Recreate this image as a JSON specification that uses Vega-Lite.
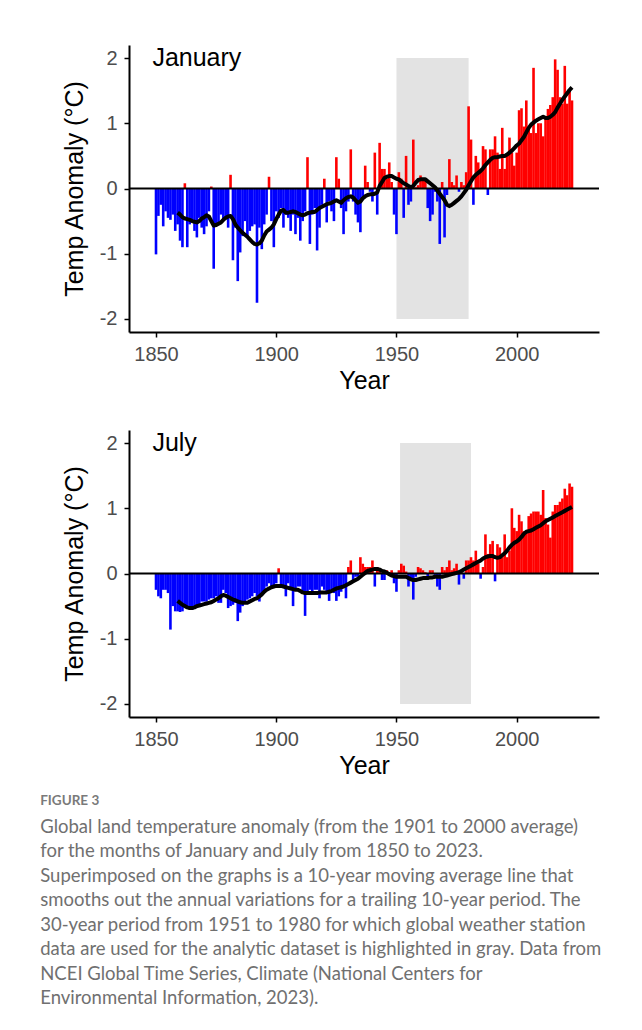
{
"$schema": "https://vega.github.io/schema/vega-lite/v6.json",
"background": "white",
"padding": {"left": 40, "top": 45, "right": 10, "bottom": 10},
"spacing": 37,
"datasets": {"d": [
{"year":1850,"jan":-1.01,"jul":-0.25},{"year":1851,"jan":-0.42,"jul":-0.35},{"year":1852,"jan":-0.25,"jul":-0.38},{"year":1853,"jan":-0.58,"jul":-0.25},{"year":1854,"jan":-0.35,"jul":-0.25},{"year":1855,"jan":-0.45,"jul":-0.30},{"year":1856,"jan":-0.48,"jul":-0.86},{"year":1857,"jan":-0.40,"jul":-0.50},{"year":1858,"jan":-0.65,"jul":-0.58},
{"year":1859,"jan":-0.55,"jul":-0.58,"jan_ma":-0.37,"jul_ma":-0.42},{"year":1860,"jan":-0.80,"jul":-0.59,"jan_ma":-0.40,"jul_ma":-0.45},{"year":1861,"jan":-0.90,"jul":-0.58,"jan_ma":-0.44,"jul_ma":-0.48},{"year":1862,"jan":0.08,"jul":-0.53,"jan_ma":-0.46,"jul_ma":-0.50},{"year":1863,"jan":-0.90,"jul":-0.53,"jan_ma":-0.47,"jul_ma":-0.52},{"year":1864,"jan":-0.55,"jul":-0.55,"jan_ma":-0.48,"jul_ma":-0.53},{"year":1865,"jan":-0.48,"jul":-0.56,"jan_ma":-0.50,"jul_ma":-0.53},{"year":1866,"jan":-0.65,"jul":-0.50,"jan_ma":-0.51,"jul_ma":-0.52},{"year":1867,"jan":-0.75,"jul":-0.53,"jan_ma":-0.52,"jul_ma":-0.50},{"year":1868,"jan":-0.45,"jul":-0.48,"jan_ma":-0.50,"jul_ma":-0.49},{"year":1869,"jan":-0.60,"jul":-0.43,"jan_ma":-0.46,"jul_ma":-0.48},
{"year":1870,"jan":-0.70,"jul":-0.43,"jan_ma":-0.44,"jul_ma":-0.47},{"year":1871,"jan":-0.58,"jul":-0.43,"jan_ma":-0.41,"jul_ma":-0.46},{"year":1872,"jan":-0.35,"jul":-0.40,"jan_ma":-0.43,"jul_ma":-0.45},{"year":1873,"jan":0.03,"jul":-0.38,"jan_ma":-0.50,"jul_ma":-0.44},{"year":1874,"jan":-1.23,"jul":-0.38,"jan_ma":-0.57,"jul_ma":-0.42},{"year":1875,"jan":-0.58,"jul":-0.35,"jan_ma":-0.56,"jul_ma":-0.40},{"year":1876,"jan":-0.55,"jul":-0.45,"jan_ma":-0.54,"jul_ma":-0.38},{"year":1877,"jan":-0.40,"jul":-0.45,"jan_ma":-0.52,"jul_ma":-0.35},{"year":1878,"jan":-0.50,"jul":-0.25,"jan_ma":-0.48,"jul_ma":-0.33},{"year":1879,"jan":-0.45,"jul":-0.30,"jan_ma":-0.45,"jul_ma":-0.34},
{"year":1880,"jan":-0.60,"jul":-0.53,"jan_ma":-0.43,"jul_ma":-0.36},{"year":1881,"jan":0.21,"jul":-0.50,"jan_ma":-0.42,"jul_ma":-0.38},{"year":1882,"jan":-1.10,"jul":-0.48,"jan_ma":-0.47,"jul_ma":-0.40},{"year":1883,"jan":-0.60,"jul":-0.45,"jan_ma":-0.55,"jul_ma":-0.41},{"year":1884,"jan":-1.42,"jul":-0.73,"jan_ma":-0.60,"jul_ma":-0.43},{"year":1885,"jan":-0.98,"jul":-0.60,"jan_ma":-0.64,"jul_ma":-0.44},{"year":1886,"jan":-0.73,"jul":-0.50,"jan_ma":-0.68,"jul_ma":-0.45},{"year":1887,"jan":-0.50,"jul":-0.45,"jan_ma":-0.71,"jul_ma":-0.45},{"year":1888,"jan":-0.73,"jul":-0.40,"jan_ma":-0.74,"jul_ma":-0.45},{"year":1889,"jan":-0.65,"jul":-0.38,"jan_ma":-0.78,"jul_ma":-0.43},
{"year":1890,"jan":-0.58,"jul":-0.35,"jan_ma":-0.82,"jul_ma":-0.41},{"year":1891,"jan":-0.55,"jul":-0.30,"jan_ma":-0.85,"jul_ma":-0.39},{"year":1892,"jan":-1.75,"jul":-0.35,"jan_ma":-0.86,"jul_ma":-0.38},{"year":1893,"jan":-0.60,"jul":-0.43,"jan_ma":-0.84,"jul_ma":-0.35},{"year":1894,"jan":-0.93,"jul":-0.33,"jan_ma":-0.80,"jul_ma":-0.32},{"year":1895,"jan":-0.55,"jul":-0.30,"jan_ma":-0.72,"jul_ma":-0.28},{"year":1896,"jan":-0.40,"jul":-0.20,"jan_ma":-0.66,"jul_ma":-0.25},{"year":1897,"jan":0.18,"jul":-0.15,"jan_ma":-0.63,"jul_ma":-0.23},{"year":1898,"jan":-0.50,"jul":-0.20,"jan_ma":-0.60,"jul_ma":-0.21},{"year":1899,"jan":-0.90,"jul":-0.18,"jan_ma":-0.55,"jul_ma":-0.20},
{"year":1900,"jan":-0.35,"jul":-0.15,"jan_ma":-0.47,"jul_ma":-0.19},{"year":1901,"jan":-0.45,"jul":0.08,"jan_ma":-0.40,"jul_ma":-0.19},{"year":1902,"jan":-0.30,"jul":-0.20,"jan_ma":-0.34,"jul_ma":-0.19},{"year":1903,"jan":-0.60,"jul":-0.20,"jan_ma":-0.33,"jul_ma":-0.20},{"year":1904,"jan":-0.40,"jul":-0.35,"jan_ma":-0.37,"jul_ma":-0.21},{"year":1905,"jan":-0.45,"jul":-0.15,"jan_ma":-0.37,"jul_ma":-0.22},{"year":1906,"jan":-0.65,"jul":-0.22,"jan_ma":-0.36,"jul_ma":-0.23},{"year":1907,"jan":-0.40,"jul":-0.50,"jan_ma":-0.35,"jul_ma":-0.24},{"year":1908,"jan":-0.70,"jul":-0.25,"jan_ma":-0.36,"jul_ma":-0.25},{"year":1909,"jan":-0.45,"jul":-0.20,"jan_ma":-0.38,"jul_ma":-0.25},
{"year":1910,"jan":-0.80,"jul":-0.20,"jan_ma":-0.40,"jul_ma":-0.27},{"year":1911,"jan":-0.50,"jul":-0.30,"jan_ma":-0.41,"jul_ma":-0.29},{"year":1912,"jan":-0.35,"jul":-0.65,"jan_ma":-0.40,"jul_ma":-0.30},{"year":1913,"jan":0.48,"jul":-0.30,"jan_ma":-0.38,"jul_ma":-0.30},{"year":1914,"jan":-0.85,"jul":-0.25,"jan_ma":-0.37,"jul_ma":-0.30},{"year":1915,"jan":-0.40,"jul":-0.30,"jan_ma":-0.36,"jul_ma":-0.30},{"year":1916,"jan":-0.30,"jul":-0.25,"jan_ma":-0.36,"jul_ma":-0.30},{"year":1917,"jan":-0.95,"jul":-0.25,"jan_ma":-0.33,"jul_ma":-0.30},{"year":1918,"jan":-0.60,"jul":-0.38,"jan_ma":-0.30,"jul_ma":-0.29},{"year":1919,"jan":-0.25,"jul":-0.20,"jan_ma":-0.28,"jul_ma":-0.29},
{"year":1920,"jan":0.15,"jul":-0.25,"jan_ma":-0.26,"jul_ma":-0.29},{"year":1921,"jan":-0.52,"jul":-0.30,"jan_ma":-0.24,"jul_ma":-0.29},{"year":1922,"jan":-0.20,"jul":-0.42,"jan_ma":-0.23,"jul_ma":-0.28},{"year":1923,"jan":-0.35,"jul":-0.25,"jan_ma":-0.22,"jul_ma":-0.27},{"year":1924,"jan":-0.50,"jul":-0.30,"jan_ma":-0.20,"jul_ma":-0.25},{"year":1925,"jan":0.48,"jul":-0.42,"jan_ma":-0.18,"jul_ma":-0.23},{"year":1926,"jan":0.15,"jul":-0.35,"jan_ma":-0.20,"jul_ma":-0.22},{"year":1927,"jan":-0.30,"jul":-0.28,"jan_ma":-0.22,"jul_ma":-0.21},{"year":1928,"jan":-0.70,"jul":-0.20,"jan_ma":-0.18,"jul_ma":-0.20},{"year":1929,"jan":-0.35,"jul":-0.38,"jan_ma":-0.15,"jul_ma":-0.18},
{"year":1930,"jan":-0.20,"jul":0.10,"jan_ma":-0.13,"jul_ma":-0.16},{"year":1931,"jan":0.60,"jul":0.20,"jan_ma":-0.12,"jul_ma":-0.14},{"year":1932,"jan":-0.20,"jul":-0.10,"jan_ma":-0.14,"jul_ma":-0.12},{"year":1933,"jan":-0.40,"jul":-0.05,"jan_ma":-0.18,"jul_ma":-0.10},{"year":1934,"jan":-0.52,"jul":-0.05,"jan_ma":-0.22,"jul_ma":-0.08},{"year":1935,"jan":-0.67,"jul":0.25,"jan_ma":-0.20,"jul_ma":-0.05},{"year":1936,"jan":-0.15,"jul":0.15,"jan_ma":-0.15,"jul_ma":-0.02},{"year":1937,"jan":0.35,"jul":0.10,"jan_ma":-0.12,"jul_ma":0.01},{"year":1938,"jan":0.10,"jul":0.10,"jan_ma":-0.10,"jul_ma":0.04},{"year":1939,"jan":-0.05,"jul":0.10,"jan_ma":-0.09,"jul_ma":0.05},
{"year":1940,"jan":-0.20,"jul":0.20,"jan_ma":-0.09,"jul_ma":0.06},{"year":1941,"jan":0.55,"jul":-0.20,"jan_ma":-0.08,"jul_ma":0.07},{"year":1942,"jan":-0.40,"jul":0.10,"jan_ma":-0.06,"jul_ma":0.07},{"year":1943,"jan":0.70,"jul":0.05,"jan_ma":0.04,"jul_ma":0.06},{"year":1944,"jan":0.30,"jul":-0.10,"jan_ma":0.10,"jul_ma":0.04},{"year":1945,"jan":0.30,"jul":-0.10,"jan_ma":0.16,"jul_ma":0.03},{"year":1946,"jan":0.15,"jul":0.05,"jan_ma":0.18,"jul_ma":0.01},{"year":1947,"jan":0.40,"jul":0.02,"jan_ma":0.19,"jul_ma":-0.01},{"year":1948,"jan":0.10,"jul":0.05,"jan_ma":0.19,"jul_ma":-0.03},{"year":1949,"jan":-0.40,"jul":-0.15,"jan_ma":0.17,"jul_ma":-0.04},
{"year":1950,"jan":-0.70,"jul":-0.28,"jan_ma":0.15,"jul_ma":-0.05},{"year":1951,"jan":0.25,"jul":0.05,"jan_ma":0.14,"jul_ma":-0.05},{"year":1952,"jan":0.15,"jul":0.15,"jan_ma":0.11,"jul_ma":-0.05},{"year":1953,"jan":-0.45,"jul":0.12,"jan_ma":0.08,"jul_ma":-0.05},{"year":1954,"jan":0.50,"jul":0.03,"jan_ma":0.06,"jul_ma":-0.05},{"year":1955,"jan":-0.25,"jul":-0.20,"jan_ma":0.04,"jul_ma":-0.07},{"year":1956,"jan":-0.20,"jul":-0.10,"jan_ma":0.02,"jul_ma":-0.09},{"year":1957,"jan":0.75,"jul":-0.40,"jan_ma":0.04,"jul_ma":-0.10},{"year":1958,"jan":0.02,"jul":-0.05,"jan_ma":0.09,"jul_ma":-0.10},{"year":1959,"jan":0.05,"jul":0.10,"jan_ma":0.13,"jul_ma":-0.09},
{"year":1960,"jan":0.20,"jul":0.08,"jan_ma":0.14,"jul_ma":-0.08},{"year":1961,"jan":0.15,"jul":0.05,"jan_ma":0.14,"jul_ma":-0.07},{"year":1962,"jan":0.15,"jul":0.02,"jan_ma":0.14,"jul_ma":-0.07},{"year":1963,"jan":-0.30,"jul":-0.05,"jan_ma":0.11,"jul_ma":-0.07},{"year":1964,"jan":-0.50,"jul":0.05,"jan_ma":0.08,"jul_ma":-0.06},{"year":1965,"jan":-0.40,"jul":0.05,"jan_ma":0.05,"jul_ma":-0.06},{"year":1966,"jan":-0.05,"jul":-0.02,"jan_ma":0.02,"jul_ma":-0.05},{"year":1967,"jan":-0.20,"jul":-0.20,"jan_ma":-0.03,"jul_ma":-0.05},{"year":1968,"jan":-0.85,"jul":-0.25,"jan_ma":-0.08,"jul_ma":-0.05},{"year":1969,"jan":0.10,"jul":0.10,"jan_ma":-0.13,"jul_ma":-0.05},
{"year":1970,"jan":-0.75,"jul":0.05,"jan_ma":-0.18,"jul_ma":-0.04},{"year":1971,"jan":-0.10,"jul":0.10,"jan_ma":-0.25,"jul_ma":-0.03},{"year":1972,"jan":0.45,"jul":0.20,"jan_ma":-0.27,"jul_ma":-0.02},{"year":1973,"jan":0.10,"jul":0.05,"jan_ma":-0.25,"jul_ma":-0.01},{"year":1974,"jan":0.05,"jul":0.08,"jan_ma":-0.22,"jul_ma":0.00},{"year":1975,"jan":0.20,"jul":0.15,"jan_ma":-0.19,"jul_ma":0.01},{"year":1976,"jan":-0.05,"jul":-0.17,"jan_ma":-0.16,"jul_ma":0.02},{"year":1977,"jan":0.10,"jul":0.05,"jan_ma":-0.12,"jul_ma":0.04},{"year":1978,"jan":0.05,"jul":-0.08,"jan_ma":-0.07,"jul_ma":0.06},{"year":1979,"jan":0.25,"jul":0.20,"jan_ma":-0.02,"jul_ma":0.08},
{"year":1980,"jan":1.26,"jul":0.20,"jan_ma":0.05,"jul_ma":0.10},{"year":1981,"jan":0.75,"jul":0.25,"jan_ma":0.11,"jul_ma":0.12},{"year":1982,"jan":-0.25,"jul":0.20,"jan_ma":0.17,"jul_ma":0.14},{"year":1983,"jan":0.50,"jul":0.35,"jan_ma":0.21,"jul_ma":0.16},{"year":1984,"jan":0.40,"jul":0.15,"jan_ma":0.24,"jul_ma":0.18},{"year":1985,"jan":0.30,"jul":-0.08,"jan_ma":0.27,"jul_ma":0.20},{"year":1986,"jan":0.65,"jul":0.10,"jan_ma":0.31,"jul_ma":0.23},{"year":1987,"jan":0.60,"jul":0.60,"jan_ma":0.36,"jul_ma":0.25},{"year":1988,"jan":-0.10,"jul":0.30,"jan_ma":0.40,"jul_ma":0.26},{"year":1989,"jan":0.60,"jul":0.45,"jan_ma":0.44,"jul_ma":0.27},
{"year":1990,"jan":0.60,"jul":0.50,"jan_ma":0.47,"jul_ma":0.27},{"year":1991,"jan":0.80,"jul":-0.12,"jan_ma":0.48,"jul_ma":0.25},{"year":1992,"jan":0.55,"jul":0.45,"jan_ma":0.48,"jul_ma":0.24},{"year":1993,"jan":0.30,"jul":0.40,"jan_ma":0.49,"jul_ma":0.25},{"year":1994,"jan":0.93,"jul":0.25,"jan_ma":0.50,"jul_ma":0.28},{"year":1995,"jan":0.30,"jul":0.60,"jan_ma":0.50,"jul_ma":0.31},{"year":1996,"jan":0.50,"jul":0.25,"jan_ma":0.52,"jul_ma":0.35},{"year":1997,"jan":0.78,"jul":0.35,"jan_ma":0.55,"jul_ma":0.40},{"year":1998,"jan":0.55,"jul":1.00,"jan_ma":0.58,"jul_ma":0.44},{"year":1999,"jan":0.35,"jul":0.70,"jan_ma":0.62,"jul_ma":0.47},
{"year":2000,"jan":0.55,"jul":0.65,"jan_ma":0.66,"jul_ma":0.49},{"year":2001,"jan":1.20,"jul":0.90,"jan_ma":0.69,"jul_ma":0.52},{"year":2002,"jan":1.23,"jul":0.80,"jan_ma":0.74,"jul_ma":0.56},{"year":2003,"jan":0.95,"jul":0.65,"jan_ma":0.79,"jul_ma":0.61},{"year":2004,"jan":1.35,"jul":0.65,"jan_ma":0.86,"jul_ma":0.64},{"year":2005,"jan":0.90,"jul":0.88,"jan_ma":0.93,"jul_ma":0.65},{"year":2006,"jan":0.85,"jul":0.92,"jan_ma":0.98,"jul_ma":0.66},{"year":2007,"jan":1.85,"jul":0.95,"jan_ma":1.01,"jul_ma":0.68},{"year":2008,"jan":0.85,"jul":0.95,"jan_ma":1.04,"jul_ma":0.70},{"year":2009,"jan":1.00,"jul":0.95,"jan_ma":1.06,"jul_ma":0.72},
{"year":2010,"jan":1.00,"jul":0.90,"jan_ma":1.08,"jul_ma":0.74},{"year":2011,"jan":0.80,"jul":1.28,"jan_ma":1.10,"jul_ma":0.77},{"year":2012,"jan":1.10,"jul":0.85,"jan_ma":1.08,"jul_ma":0.80},{"year":2013,"jan":1.22,"jul":0.75,"jan_ma":1.08,"jul_ma":0.82},{"year":2014,"jan":1.28,"jul":0.55,"jan_ma":1.10,"jul_ma":0.84},{"year":2015,"jan":1.40,"jul":0.95,"jan_ma":1.13,"jul_ma":0.86},{"year":2016,"jan":1.98,"jul":1.05,"jan_ma":1.17,"jul_ma":0.88},{"year":2017,"jan":1.82,"jul":1.05,"jan_ma":1.24,"jul_ma":0.90},{"year":2018,"jan":1.40,"jul":1.10,"jan_ma":1.30,"jul_ma":0.92},{"year":2019,"jan":1.30,"jul":1.15,"jan_ma":1.36,"jul_ma":0.94},
{"year":2020,"jan":1.88,"jul":1.30,"jan_ma":1.41,"jul_ma":0.96},{"year":2021,"jan":1.30,"jul":1.20,"jan_ma":1.46,"jul_ma":0.98},{"year":2022,"jan":1.50,"jul":1.38,"jan_ma":1.51,"jul_ma":1.00},{"year":2023,"jan":1.35,"jul":1.33,"jan_ma":1.55,"jul_ma":1.02}
]},
"title": {
  "text": "FIGURE 3",
  "subtitle": [
    "Global land temperature anomaly (from the 1901 to 2000 average)",
    "for the months of January and July from 1850 to 2023.",
    "Superimposed on the graphs is a 10-year moving average line that",
    "smooths out the annual variations for a trailing 10-year period. The",
    "30-year period from 1951 to 1980 for which global weather station",
    "data are used for the analytic dataset is highlighted in gray. Data from",
    "NCEI Global Time Series, Climate (National Centers for",
    "Environmental Information, 2023)."
  ],
  "orient": "bottom", "anchor": "start", "frame": "bounds",
  "offset": 16, "dx": -22,
  "font": "Lato", "fontSize": 13.5, "fontWeight": "bold", "color": "#7a7a7a",
  "subtitleFont": "Lato", "subtitleFontSize": 18.5, "subtitleColor": "#707070",
  "subtitleLineHeight": 24.5, "subtitlePadding": 10
},
"config": {
  "view": {"stroke": null},
  "axis": {
    "grid": false, "domainColor": "black", "domainWidth": 2,
    "tickColor": "black", "tickWidth": 1.5, "tickSize": 5,
    "labelColor": "#4d4d4d", "labelFontSize": 20, "labelFont": "Liberation Sans", "labelPadding": 7,
    "titleFont": "Liberation Sans", "titleFontSize": 25, "titleFontWeight": "normal", "titleColor": "black"
  },
  "axisX": {"titlePadding": 4},
  "axisY": {"titlePadding": 12}
},
"vconcat": [
{
  "width": 470, "height": 287,
  "layer": [
    {"data": {"values": [{}]}, "mark": {"type": "rect", "color": "#e3e3e3"},
     "encoding": {
       "x": {"datum": 1950, "type": "quantitative", "title": "Year", "scale": {"domain": [1840.85, 2032.15], "nice": false, "zero": false}, "axis": {"values": [1850, 1900, 1950, 2000], "labelExpr": "datum.value + ''"}},
       "x2": {"datum": 1980},
       "y": {"datum": -2, "type": "quantitative", "title": "Temp Anomaly (°C)", "scale": {"domain": [-2.2, 2.2], "nice": false}, "axis": {"values": [-2, -1, 0, 1, 2], "labelExpr": "datum.value + ''"}},
       "y2": {"datum": 2}}},
    {"data": {"name": "d"}, "mark": {"type": "bar", "width": 2.6},
     "encoding": {
       "x": {"field": "year", "type": "quantitative", "title": "Year"},
       "y": {"field": "jan", "type": "quantitative", "title": "Temp Anomaly (°C)"},
       "color": {"condition": {"test": "datum.jan >= 0", "value": "#ff0000"}, "value": "#0000ff"}}},
    {"data": {"values": [{}]}, "mark": {"type": "rule", "color": "black", "strokeWidth": 2},
     "encoding": {"y": {"datum": 0, "type": "quantitative", "title": "Temp Anomaly (°C)"}}},
    {"data": {"name": "d"}, "mark": {"type": "line", "color": "black", "strokeWidth": 4, "strokeJoin": "round"},
     "encoding": {
       "x": {"field": "year", "type": "quantitative", "title": "Year"},
       "y": {"field": "jan_ma", "type": "quantitative", "title": "Temp Anomaly (°C)"}}},
    {"data": {"values": [{}]}, "mark": {"type": "text", "text": "January", "align": "left", "baseline": "middle", "fontSize": 25, "font": "Liberation Sans", "color": "black"},
     "encoding": {"x": {"datum": 1848.5, "type": "quantitative", "title": "Year"}, "y": {"datum": 2, "type": "quantitative", "title": "Temp Anomaly (°C)"}}}
  ]
},
{
  "width": 470, "height": 287,
  "layer": [
    {"data": {"values": [{}]}, "mark": {"type": "rect", "color": "#e3e3e3"},
     "encoding": {
       "x": {"datum": 1951.5, "type": "quantitative", "title": "Year", "scale": {"domain": [1840.85, 2032.15], "nice": false, "zero": false}, "axis": {"values": [1850, 1900, 1950, 2000], "labelExpr": "datum.value + ''"}},
       "x2": {"datum": 1981},
       "y": {"datum": -2, "type": "quantitative", "title": "Temp Anomaly (°C)", "scale": {"domain": [-2.2, 2.2], "nice": false}, "axis": {"values": [-2, -1, 0, 1, 2], "labelExpr": "datum.value + ''"}},
       "y2": {"datum": 2}}},
    {"data": {"name": "d"}, "mark": {"type": "bar", "width": 2.6},
     "encoding": {
       "x": {"field": "year", "type": "quantitative", "title": "Year"},
       "y": {"field": "jul", "type": "quantitative", "title": "Temp Anomaly (°C)"},
       "color": {"condition": {"test": "datum.jul >= 0", "value": "#ff0000"}, "value": "#0000ff"}}},
    {"data": {"values": [{}]}, "mark": {"type": "rule", "color": "black", "strokeWidth": 2},
     "encoding": {"y": {"datum": 0, "type": "quantitative", "title": "Temp Anomaly (°C)"}}},
    {"data": {"name": "d"}, "mark": {"type": "line", "color": "black", "strokeWidth": 4, "strokeJoin": "round"},
     "encoding": {
       "x": {"field": "year", "type": "quantitative", "title": "Year"},
       "y": {"field": "jul_ma", "type": "quantitative", "title": "Temp Anomaly (°C)"}}},
    {"data": {"values": [{}]}, "mark": {"type": "text", "text": "July", "align": "left", "baseline": "middle", "fontSize": 25, "font": "Liberation Sans", "color": "black"},
     "encoding": {"x": {"datum": 1848.5, "type": "quantitative", "title": "Year"}, "y": {"datum": 2, "type": "quantitative", "title": "Temp Anomaly (°C)"}}}
  ]
}
]
}
